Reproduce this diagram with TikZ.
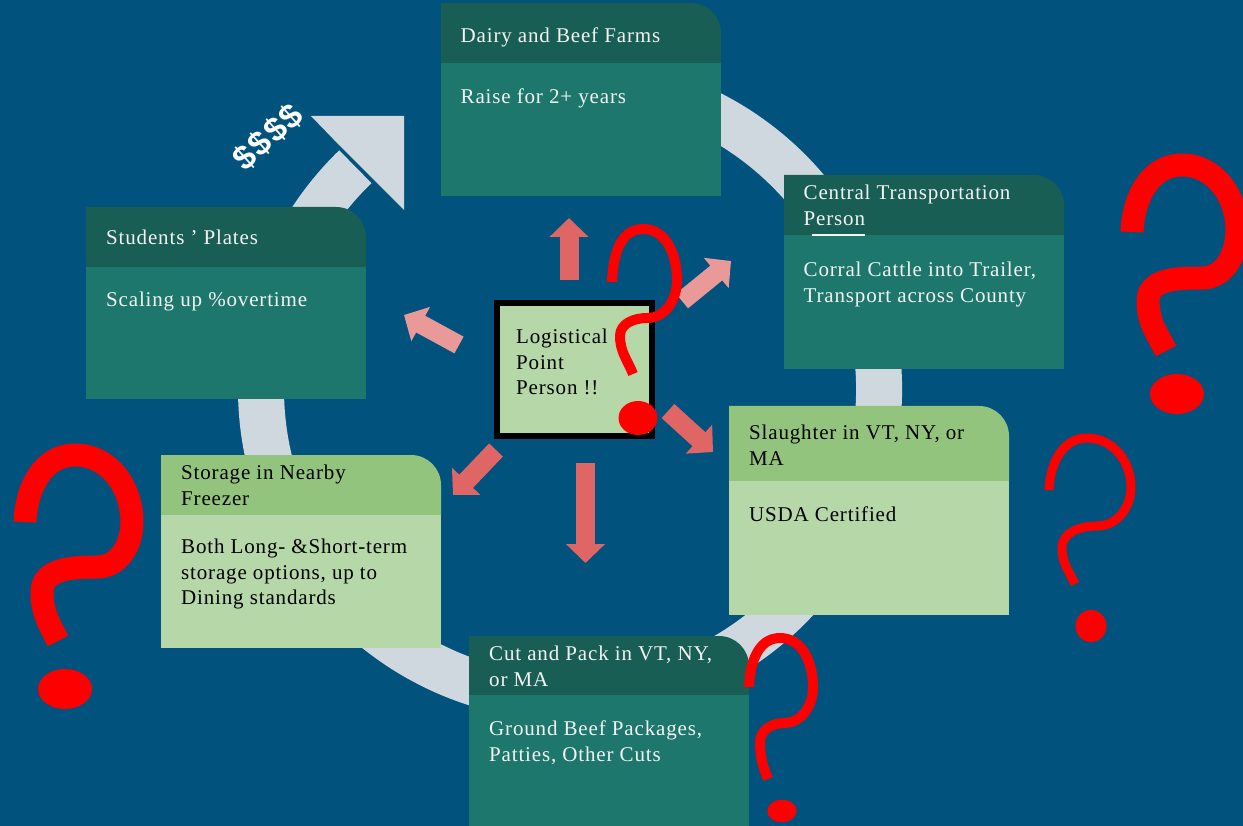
\documentclass[tikz,border=0pt]{standalone}
\usepackage{fontspec}
\setmainfont{Liberation Serif}[LetterSpace=4]
\newfontfamily\dollarfont{Liberation Sans}[LetterSpace=5]
\usetikzlibrary{arrows.meta}

\begin{document}
\begin{tikzpicture}[x=1pt, y=1pt,
    cardtext/.style={anchor=north west, inner sep=0pt, align=left, font=\fontsize{21}{25.5}\selectfont},
    lighttext/.style={cardtext, text=txtwhite},
    darktext/.style={cardtext, text=black},
    blockarr/.style={line width=19pt, -{Triangle[length=19pt, width=38pt]}},
    qmark/.style={draw=qred, line cap=butt, line join=round}]

    % --- DEFINITIONS ---
    \definecolor{bgblue}{RGB}{1, 82, 125}
    \definecolor{hdrdark}{RGB}{24, 94, 84}
    \definecolor{bodyteal}{RGB}{29, 119, 108}
    \definecolor{hdrlight}{RGB}{147, 196, 125}
    \definecolor{bodylight}{RGB}{182, 215, 168}
    \definecolor{ringgrey}{RGB}{208, 216, 223}
    \definecolor{salmon}{RGB}{224, 102, 102}
    \definecolor{salmonlt}{RGB}{234, 153, 153}
    \definecolor{txtwhite}{RGB}{243, 243, 243}
    \definecolor{qred}{RGB}{255, 0, 0}

    \useasboundingbox (0,0) rectangle (1243,-826);
    \clip (0,0) rectangle (1243,-826);
    \fill[bgblue] (0,0) rectangle (1243,-826);

    % --- THE CYCLE RING ---
    \coordinate (ringc) at (570,-389);
    \draw[ringgrey, line width=46pt] ([shift={(108:309)}]ringc) arc[start angle=108, end angle=-226, radius=309];
    \fill[ringgrey] (311,-116) -- (404,-116) -- (404,-210) -- (373,-179) -- (340,-146) -- cycle;
    \node[rotate=42, text=white, inner sep=0pt, font=\dollarfont\bfseries\fontsize{34}{34}\selectfont] (money) at (268,-137) {\$\$\$\$};

    % --- CARDS ---
    % Dairy and Beef Farms
    \fill[hdrdark] (441,-63) -- (441,-3) -- (691,-3) arc[start angle=90, end angle=0, radius=30] -- (721,-63) -- cycle;
    \fill[bodyteal] (441,-63) rectangle (721,-196);
    \node[lighttext] (dairyH) at (460.5,-28) {Dairy and Beef Farms};
    \node[lighttext] (dairyB) at (460.5,-89) {Raise for 2+ years};

    % Central Transportation Person
    \fill[hdrdark] (784,-235) -- (784,-175) -- (1034,-175) arc[start angle=90, end angle=0, radius=30] -- (1064,-235) -- cycle;
    \fill[bodyteal] (784,-235) rectangle (1064,-369);
    \draw[txtwhite, line width=1.2pt] (812,-235) -- (865,-235);
    \node[lighttext] (transH) at (803.5,-185) {Central Transportation\\Person};
    \node[lighttext] (transB) at (803.5,-262) {Corral Cattle into Trailer,\\Transport across County};

    % Slaughter
    \fill[hdrlight] (729,-481) -- (729,-406) -- (979,-406) arc[start angle=90, end angle=0, radius=30] -- (1009,-481) -- cycle;
    \fill[bodylight] (729,-481) rectangle (1009,-615);
    \node[darktext] (slaughterH) at (749,-425) {Slaughter in VT, NY, or\\MA};
    \node[darktext] (slaughterB) at (749,-507) {USDA Certified};

    % Cut and Pack
    \fill[hdrdark] (469,-695) -- (469,-636) -- (719,-636) arc[start angle=90, end angle=0, radius=30] -- (749,-695) -- cycle;
    \fill[bodyteal] (469,-695) rectangle (749,-830);
    \node[lighttext] (cutH) at (489,-646) {Cut and Pack in VT, NY,\\or MA};
    \node[lighttext] (cutB) at (489,-721) {Ground Beef Packages,\\Patties, Other Cuts};

    % Storage
    \fill[hdrlight] (161,-515) -- (161,-455) -- (411,-455) arc[start angle=90, end angle=0, radius=30] -- (441,-515) -- cycle;
    \fill[bodylight] (161,-515) rectangle (441,-648);
    \node[darktext] (storeH) at (181,-465) {Storage in Nearby\\Freezer};
    \node[darktext] (storeB) at (181,-539) {Both Long- \&Short-term\\storage options, up to\\Dining standards};

    % Students' Plates
    \fill[hdrdark] (86,-267) -- (86,-207) -- (336,-207) arc[start angle=90, end angle=0, radius=30] -- (366,-267) -- cycle;
    \fill[bodyteal] (86,-267) rectangle (366,-399);
    \node[lighttext] (platesH) at (106,-230) {Students ’ Plates};
    \node[lighttext] (platesB) at (106,-292) {Scaling up \%overtime};

    % --- CENTRE: LOGISTICAL POINT PERSON ---
    \node[draw=black, line width=6pt, fill=bodylight, minimum width=155pt, minimum height=133pt, inner sep=0pt] (lp) at (574.5,-369.5) {};
    \node[darktext] (lptext) at (516,-329) {Logistical\\Point\\Person !!};

    % Radiating arrows
    \coordinate (upS) at (569,-280);     \coordinate (upE) at (569,-218);
    \coordinate (urS) at (682,-301);     \coordinate (urE) at (731,-261);
    \coordinate (drS) at (668,-411);     \coordinate (drE) at (713,-452);
    \coordinate (dnS) at (585.5,-463);   \coordinate (dnE) at (585.5,-563);
    \coordinate (dlS) at (496,-450);     \coordinate (dlE) at (453,-495);
    \coordinate (ulS) at (459,-345);     \coordinate (ulE) at (404,-315);
    \draw[blockarr, salmon] (upS) -- (upE);
    \draw[blockarr, salmonlt] (urS) -- (urE);
    \draw[blockarr, salmon] (drS) -- (drE);
    \draw[blockarr, salmon] (dnS) -- (dnE);
    \draw[blockarr, salmon] (dlS) -- (dlE);
    \draw[blockarr, salmonlt] (ulS) -- (ulE);

    % --- QUESTION MARKS ---
    \draw[qmark, line width=10pt] (612,-282) to[out=88,in=180] (643,-229) to[out=0,in=90] (677,-280)
        to[out=-90,in=0] (647,-318) to[out=180,in=90] (620,-336) to[out=-90,in=112] (633,-374);
    \fill[qred] (638,-418) ellipse[x radius=19.5, y radius=17];

    \draw[qmark, line width=23pt] (25,-522) to[out=88,in=180] (75,-455) to[out=0,in=90] (132,-522)
        to[out=-90,in=0] (97,-567) to[out=180,in=90] (42,-592) to[out=-90,in=117] (58,-641);
    \fill[qred] (65,-689) ellipse[x radius=27, y radius=20];

    \draw[qmark, line width=23pt] (1132,-232) to[out=88,in=180] (1182,-165) to[out=0,in=90] (1237,-230)
        to[out=-90,in=0] (1202,-278) to[out=180,in=90] (1148,-301) to[out=-90,in=117] (1166,-351);
    \fill[qred] (1177,-394) ellipse[x radius=27, y radius=20];

    \draw[qmark, line width=9pt] (1049,-490) to[out=88,in=180] (1087,-438) to[out=0,in=90] (1131,-487)
        to[out=-90,in=0] (1097,-526) to[out=180,in=90] (1062,-548) to[out=-90,in=115] (1075,-584);
    \fill[qred] (1091,-626) ellipse[x radius=15.5, y radius=16];

    \draw[qmark, line width=10pt] (749,-687) to[out=88,in=180] (780,-638) to[out=0,in=90] (813,-687)
        to[out=-90,in=0] (784,-723) to[out=180,in=90] (760,-742) to[out=-90,in=112] (768,-779);
    \fill[qred] (782,-811) ellipse[x radius=14.7, y radius=11.2];
\end{tikzpicture}
\end{document}
